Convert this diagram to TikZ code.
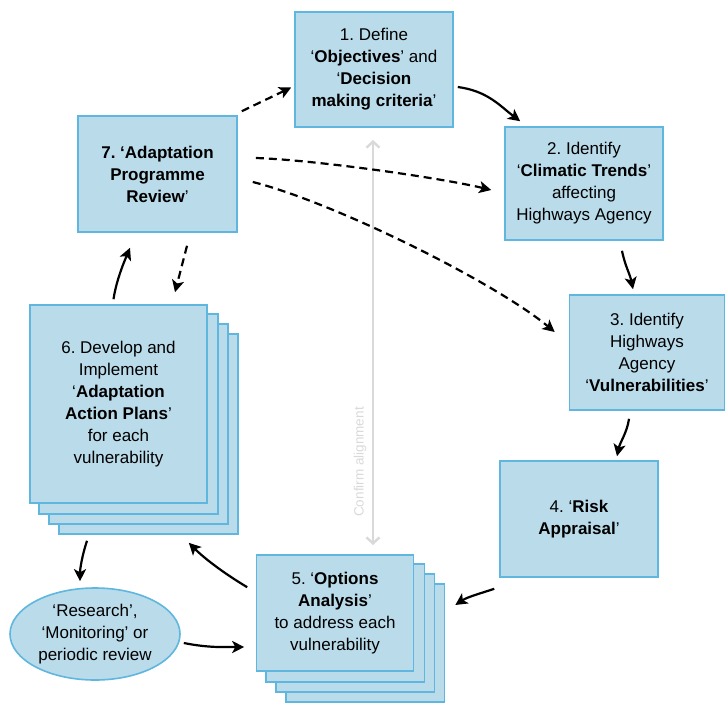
\documentclass[tikz,border=0pt]{standalone}
\usepackage{fontspec}
\setmainfont{Liberation Sans}
\usetikzlibrary{arrows.meta,backgrounds,shapes.geometric}
\frenchspacing

\definecolor{boxfill}{RGB}{185,219,234}
\definecolor{boxline}{RGB}{95,182,222}

\tikzset{
  stage/.style={draw=boxline, fill=boxfill, line width=1.6pt, align=center,
    font=\fontsize{17}{22}\selectfont, inner sep=4pt},
  flow/.style={line width=2.2pt, -{Stealth[length=12pt,width=12pt,inset=3pt]}},
  link/.style={flow, dash pattern=on 8pt off 5pt},
  aligned/.style={line width=2.4pt, draw=gray!30,
    {Straight Barb[length=6pt,width=13pt]}-{Straight Barb[length=6pt,width=13pt]}},
}

\begin{document}
\begin{tikzpicture}[x=1pt, y=-1pt]
    \useasboundingbox (0,0) rectangle (727,703);
    \node[stage, minimum width=158pt, minimum height=115pt] (obj) at (374,69.5)
        {1. Define\\`\textbf{Objectives}' and\\`\textbf{Decision}\\\textbf{making criteria}'};
    \node[stage, minimum width=158pt, minimum height=113pt] (trends) at (584,183.5)
        {2. Identify\\`\textbf{Climatic Trends}'\\affecting\\Highways Agency};
    \node[stage, minimum width=155pt, minimum height=115pt] (vuln) at (647,352.5)
        {3. Identify\\Highways\\Agency\\`\textbf{Vulnerabilities}'};
    \node[stage, minimum width=158pt, minimum height=116pt] (risk) at (579,519)
        {4. `\textbf{Risk}\\\textbf{Appraisal}'};
    \node[stage, minimum width=157pt, minimum height=116pt] (options) at (335,613)
        {5. `\textbf{Options}\\\textbf{Analysis}'\\to address each\\vulnerability};
    \node[stage, minimum width=177pt, minimum height=198pt] (plans) at (118.5,404)
        {6. Develop and\\Implement\\`\textbf{Adaptation}\\\textbf{Action Plans}'\\for each\\vulnerability};
    \node[stage, minimum width=159pt, minimum height=116pt] (review) at (157.5,174)
        {\textbf{7. `Adaptation}\\\textbf{Programme}\\\textbf{Review}'};
    \node[stage, ellipse, minimum width=170pt, minimum height=92pt, inner sep=0pt] (research) at (95,634)
        {`Research',\\`Monitoring' or\\periodic review};

    \begin{scope}[on background layer]
        \foreach \k in {3,2,1}{
            \draw[stage] ([shift={(10*\k,10*\k)}]plans.north west) rectangle ([shift={(10*\k,10*\k)}]plans.south east);
            \draw[stage] ([shift={(10*\k,10*\k)}]options.north west) rectangle ([shift={(10*\k,10*\k)}]options.south east);
        }
    \end{scope}

    \coordinate (alignTop) at (373,140);
    \coordinate (alignBottom) at (373,545);
    \draw[aligned] (alignBottom) -- (alignTop)
        node[pos=0.205, left=2pt, rotate=90, anchor=south, text=gray!30, font=\fontsize{13.5}{16}\selectfont] (alignText) {Confirm alignment};

    \draw[link] ([shift={(4,-4)}]review.north east) -- ([shift={(-3,18)}]obj.west);
    \draw[link] ([shift={(18,-16)}]review.east) .. controls +(60,2) and +(-50,-12) .. ([shift={(-13,6.5)}]trends.west);
    \draw[link] ([shift={(15,8)}]review.east) .. controls +(80,20) and +(-60,-50) .. ([shift={(-14,-20.5)}]vuln.west);
    \draw[link] ([shift={(29.5,13)}]review.south) -- ([shift={(56.5,-12)}]plans.north);

    \draw[flow] ([shift={(4,17.5)}]obj.east) .. controls +(30,4) and +(-20,-15) .. ([shift={(16,-5)}]trends.north west);
    \draw[flow] ([shift={(38,10)}]trends.south) .. controls +(3,15) and +(-3,-15) .. ([shift={(-14,-5)}]vuln.north);
    \draw[flow] ([shift={(-18,8)}]vuln.south) .. controls +(-2,14) and +(3,-14) .. ([shift={(38,-4)}]risk.north);
    \draw[flow] ([shift={(-5,11)}]risk.south west) .. controls +(-15,5) and +(12,-8) .. ([shift={(41,-8)}]options.east);
    \draw[flow] ([shift={(-8.5,33)}]options.north west) .. controls +(-25,-15) and +(15,15) .. ([shift={(-19,39)}]plans.south east);
    \draw[flow] ([shift={(-5,-5)}]plans.north) .. controls +(3,-20) and +(-5,12) .. ([shift={(-27.5,15)}]review.south);
    \draw[flow] ([shift={(-31.5,37)}]plans.south) .. controls +(-5,15) and +(0,-12) .. ([shift={(-15,-6)}]research.north);
    \draw[flow] ([shift={(3,9)}]research.east) .. controls +(25,5) and +(-20,0) .. ([shift={(-11.5,34)}]options.west);
\end{tikzpicture}
\end{document}
